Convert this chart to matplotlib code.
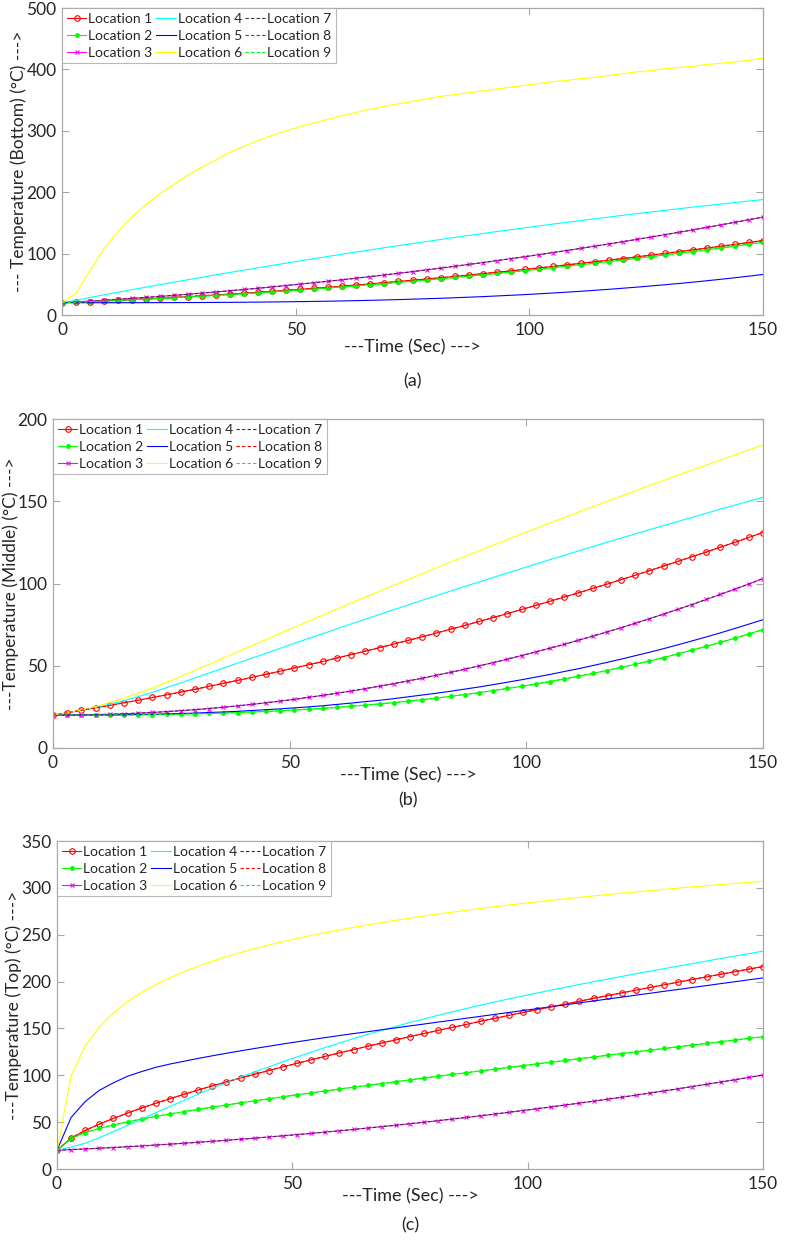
import matplotlib
matplotlib.use("Agg")
import matplotlib.pyplot as plt
import numpy as np

plt.rcParams['font.family'] = ['Lato', 'DejaVu Sans']

# time axis (s)
t = list(range(0, 151, 3))

# ---------------- (a) Bottom ----------------
a_L1 = [20.0, 20.9, 21.9, 22.9, 24.0, 25.1, 26.2, 27.4, 28.6, 29.9, 31.3, 32.6, 34.0, 35.5, 37.0, 38.6, 40.2,
        41.8, 43.5, 45.2, 47.0, 48.8, 50.7, 52.6, 54.6, 56.6, 58.6, 60.7, 62.8, 65.0, 67.3, 69.5, 71.8, 74.2,
        76.6, 79.1, 81.6, 84.1, 86.7, 89.3, 92.0, 94.7, 97.5, 100.3, 103.2, 106.1, 109.0, 112.0, 115.0, 118.1, 121.3]
a_L2 = [20.0, 20.8, 21.8, 22.7, 23.8, 24.8, 25.8, 27.0, 28.1, 29.4, 30.7, 31.9, 33.3, 34.7, 36.2, 37.7, 39.2,
        40.8, 42.4, 44.1, 45.8, 47.5, 49.4, 51.2, 53.2, 55.1, 57.0, 59.1, 61.1, 63.3, 65.5, 67.6, 69.9, 72.2,
        74.6, 77.0, 79.4, 81.9, 84.4, 87.0, 89.6, 92.2, 95.0, 97.7, 100.6, 103.4, 106.2, 109.2, 112.1, 115.2, 118.3]
a_L3 = [20.0, 21.3, 22.6, 24.1, 25.5, 27.1, 28.7, 30.3, 32.0, 33.8, 35.7, 37.6, 39.5, 41.6, 43.6, 45.8, 48.0,
        50.3, 52.6, 55.0, 57.4, 60.0, 62.5, 65.2, 67.9, 70.6, 73.5, 76.3, 79.3, 82.3, 85.3, 88.5, 91.7, 94.9,
        98.2, 101.6, 105.0, 108.5, 112.1, 115.7, 119.4, 123.1, 126.9, 130.8, 134.7, 138.7, 142.7, 146.8, 151.0, 155.2, 159.5]
a_L4 = [20.0, 23.8, 28.6, 32.9, 37.1, 41.3, 45.4, 49.5, 53.5, 57.5, 61.5, 65.5, 69.4, 73.2, 77.0, 80.8, 84.5,
        88.2, 91.9, 95.5, 99.1, 102.6, 106.1, 109.6, 113.0, 116.4, 119.7, 123.0, 126.3, 129.5, 132.7, 135.8, 138.9, 142.0,
        145.0, 148.0, 150.9, 153.8, 156.7, 159.5, 162.3, 165.1, 167.8, 170.4, 173.1, 175.7, 178.2, 180.7, 183.2, 185.6, 188.0]
a_L5 = [20.0, 20.0, 20.0, 20.0, 20.0, 20.05, 20.08, 20.13, 20.19, 20.27, 20.37, 20.49, 20.64, 20.81, 21.01, 21.24, 21.51,
        21.8, 22.1, 22.5, 22.9, 23.4, 23.9, 24.5, 25.1, 25.8, 26.5, 27.2, 28.1, 29.0, 29.9, 31.0, 32.1, 33.2,
        34.5, 35.8, 37.2, 38.6, 40.2, 41.8, 43.6, 45.4, 47.3, 49.3, 51.3, 53.5, 55.8, 58.2, 60.7, 63.3, 66.0]
a_L6 = [20, 35, 73, 108, 136, 160, 180, 198, 213, 228, 241, 253, 265, 275, 284, 292.5, 300,
        307, 313, 319, 325, 330, 335, 340, 344, 348, 352, 356, 359, 362, 365, 368, 371, 374,
        377, 380, 382, 385, 387, 390, 393, 396, 398, 401, 403, 405, 408, 410, 412, 415, 418]

# ---------------- (b) Middle ----------------
b_L1 = [20.0, 21.4, 22.9, 24.4, 25.9, 27.5, 29.0, 30.7, 32.3, 34.0, 35.7, 37.5, 39.3, 41.1, 42.9, 44.8, 46.7,
        48.7, 50.6, 52.6, 54.7, 56.8, 58.9, 61.0, 63.2, 65.4, 67.6, 69.9, 72.2, 74.5, 76.9, 79.3, 81.7, 84.2,
        86.7, 89.2, 91.8, 94.3, 97.0, 99.6, 102.3, 105.0, 107.8, 110.6, 113.4, 116.3, 119.1, 122.1, 125.0, 128.0, 131.0]
b_L2 = [20.0, 20.0, 20.0, 20.0, 20.1, 20.1, 20.2, 20.3, 20.4, 20.6, 20.8, 21.0, 21.2, 21.5, 21.9, 22.2, 22.6,
        23.1, 23.6, 24.1, 24.7, 25.4, 26.1, 26.8, 27.6, 28.5, 29.4, 30.3, 31.4, 32.5, 33.6, 34.9, 36.2, 37.5,
        38.9, 40.4, 42.0, 43.6, 45.3, 47.1, 49.0, 50.9, 52.9, 55.0, 57.2, 59.5, 61.8, 64.2, 66.7, 69.3, 72.0]
b_L3 = [20.0, 20.0, 20.1, 20.3, 20.5, 20.8, 21.2, 21.6, 22.1, 22.7, 23.3, 24.0, 24.8, 25.6, 26.5, 27.5, 28.5,
        29.6, 30.8, 32.0, 33.3, 34.6, 36.1, 37.6, 39.1, 40.8, 42.4, 44.2, 46.0, 47.9, 49.9, 51.9, 54.0, 56.2,
        58.4, 60.7, 63.0, 65.5, 68.0, 70.5, 73.1, 75.8, 78.6, 81.4, 84.3, 87.2, 90.3, 93.4, 96.5, 99.7, 103.0]
b_L4 = [20.0, 21.3, 22.9, 24.6, 26.6, 28.8, 31.2, 33.8, 36.7, 39.6, 42.6, 45.6, 48.6, 51.6, 54.6, 57.6, 60.6,
        63.6, 66.6, 69.5, 72.5, 75.4, 78.3, 81.2, 84.1, 86.9, 89.8, 92.6, 95.4, 98.2, 100.9, 103.7, 106.4, 109.1,
        111.8, 114.5, 117.1, 119.8, 122.4, 125.0, 127.6, 130.2, 132.7, 135.2, 137.7, 140.2, 142.7, 145.2, 147.6, 150.0, 152.4]
b_L5 = [20.0, 20.0, 20.0, 20.1, 20.1, 20.2, 20.4, 20.5, 20.7, 21.0, 21.2, 21.6, 21.9, 22.3, 22.8, 23.3, 23.8,
        24.4, 25.0, 25.7, 26.5, 27.3, 28.2, 29.0, 30.0, 31.1, 32.2, 33.3, 34.5, 35.8, 37.1, 38.5, 40.0, 41.5,
        43.1, 44.7, 46.5, 48.2, 50.1, 52.0, 54.0, 56.1, 58.2, 60.4, 62.7, 65.1, 67.5, 70.0, 72.6, 75.3, 78.0]
b_L6 = [20.0, 21.4, 23.1, 25.2, 27.6, 30.3, 33.3, 36.5, 39.9, 43.5, 47.2, 50.9, 54.7, 58.4, 62.2, 65.9, 69.7,
        73.4, 77.1, 80.8, 84.5, 88.1, 91.7, 95.3, 98.9, 102.4, 106.0, 109.5, 113.0, 116.4, 119.9, 123.3, 126.7, 130.1,
        133.4, 136.8, 140.1, 143.4, 146.6, 149.9, 153.1, 156.3, 159.5, 162.6, 165.8, 168.9, 172.0, 175.1, 178.1, 181.2, 184.2]

# ---------------- (c) Top ----------------
c_L1 = [20.0, 33.0, 41.1, 47.9, 54.0, 59.7, 65.1, 70.2, 75.0, 79.7, 84.3, 88.7, 92.9, 97.1, 101.1, 105.1, 109.0,
        112.8, 116.5, 120.2, 123.9, 127.4, 131.0, 134.4, 137.8, 141.3, 144.6, 147.9, 151.1, 154.3, 157.6, 160.8, 163.9, 167.0,
        170.1, 173.1, 176.0, 179.0, 182.1, 185.0, 187.9, 190.9, 193.7, 196.5, 199.4, 202.2, 205.0, 207.8, 210.5, 213.3, 216.0]
c_L2 = [20.0, 32.7, 38.8, 43.3, 47.0, 50.3, 53.3, 56.1, 58.7, 61.2, 63.7, 66.0, 68.3, 70.6, 72.8, 74.9, 77.1,
        79.2, 81.2, 83.3, 85.3, 87.3, 89.3, 91.2, 93.2, 95.1, 97.1, 99.0, 100.9, 102.8, 104.7, 106.5, 108.4, 110.3,
        112.2, 114.0, 115.8, 117.7, 119.5, 121.4, 123.2, 125.0, 126.8, 128.6, 130.4, 132.2, 134.0, 135.8, 137.6, 139.4, 141.1]
c_L3 = [20.0, 20.7, 21.4, 22.2, 22.9, 23.8, 24.6, 25.6, 26.5, 27.5, 28.5, 29.6, 30.6, 31.8, 32.9, 34.2, 35.4,
        36.7, 38.0, 39.4, 40.8, 42.2, 43.7, 45.2, 46.7, 48.3, 49.9, 51.6, 53.3, 55.0, 56.8, 58.6, 60.5, 62.4,
        64.3, 66.3, 68.3, 70.3, 72.4, 74.5, 76.6, 78.8, 81.1, 83.3, 85.6, 88.0, 90.4, 92.8, 95.2, 97.7, 100.3]
c_L4 = [20.0, 23.5, 27.5, 33.5, 40.0, 46.5, 53.3, 60.0, 66.7, 73.3, 80.0, 86.0, 92.0, 98.0, 103.6, 109.0, 114.5,
        119.6, 124.6, 129.6, 134.4, 139.1, 143.7, 148.0, 152.2, 156.3, 160.2, 164.0, 167.7, 171.3, 174.8, 178.2, 181.5, 184.7,
        187.8, 190.9, 193.9, 196.9, 199.8, 202.7, 205.5, 208.3, 211.1, 213.8, 216.5, 219.2, 221.9, 224.6, 227.2, 229.8, 232.5]
c_L5 = [20.0, 55.0, 72.0, 84.0, 92.0, 99.0, 104.0, 108.5, 112.0, 115.0, 118.0, 120.8, 123.5, 126.1, 128.6, 131.0, 133.4,
        135.7, 138.0, 140.2, 142.4, 144.5, 146.5, 148.6, 150.6, 152.7, 154.7, 156.8, 158.8, 160.9, 162.9, 165.0, 167.0, 169.1,
        171.1, 173.2, 175.2, 177.3, 179.3, 181.4, 183.4, 185.5, 187.5, 189.6, 191.6, 193.7, 195.7, 197.8, 199.8, 201.9, 203.9]
c_L6 = [20.0, 99.3, 131.3, 151.7, 166.7, 178.6, 188.4, 196.8, 204.1, 210.6, 216.4, 221.7, 226.5, 231.0, 235.1, 239.0, 242.6,
        246.0, 249.2, 252.2, 255.1, 257.9, 260.5, 263.0, 265.4, 267.7, 269.9, 272.1, 274.1, 276.1, 278.0, 279.9, 281.7, 283.4,
        285.1, 286.7, 288.3, 289.9, 291.4, 292.9, 294.3, 295.7, 297.1, 298.4, 299.7, 301.0, 302.2, 303.5, 304.7, 305.8, 307.0]

labels = ["Location 1", "Location 2", "Location 3", "Location 4", "Location 5",
          "Location 6", "Location 7", "Location 8", "Location 9"]
ylabels = ["--- Temperature (Bottom) (°C) --->",
           "---Temperature (Middle) (°C) --->",
           "---Temperature (Top) (°C) --->"]
xlabel = "---Time (Sec) --->"
captions = ["(a)", "(b)", "(c)"]
yticks = [list(range(0, 501, 100)), list(range(0, 201, 50)), list(range(0, 351, 50))]
xticks = [0, 50, 100, 150]

# Locations 7, 8, 9 coincide with 3, 1, 2
panels = [
    [a_L1, a_L2, a_L3, a_L4, a_L5, a_L6, a_L3, a_L1, a_L2],
    [b_L1, b_L2, b_L3, b_L4, b_L5, b_L6, b_L3, b_L1, b_L2],
    [c_L1, c_L2, c_L3, c_L4, c_L5, c_L6, c_L3, c_L1, c_L2],
]

W, H = 790, 1247
fig = plt.figure(figsize=(W / 100, H / 100), dpi=100)
boxes = [(62, 8, 763, 315), (53, 419, 763, 748), (57, 841, 763, 1169)]
xlab_y = [347, 775, 1196]
cap_y = [381, 800, 1225]
ylab_x = [19, 11, 14]

styles = [
    dict(color='red', marker='o', mfc='none', ms=4, mew=0.8, ls='-'),
    dict(color='#00ff00', marker='.', ms=5, ls='-'),
    dict(color='magenta', marker='x', ms=3.5, mew=0.8, ls='-'),
    dict(color='cyan', ls='-'),
    dict(color='blue', ls='-'),
    dict(color='#ffff00', ls='-'),
    dict(color='#333333', ls=(0, (3, 2))),
    dict(color='red', ls=(0, (3, 2))),
    dict(color='#00ff00', ls=(0, (3, 2))),
]

spine_col = '#a8a8a8'
txt_col = '#262626'
for i, (l, tp, r, b) in enumerate(boxes):
    w, h = r - l, b - tp
    ax = fig.add_axes([l / W, 1 - b / H, w / W, h / H])
    for k, series in enumerate(panels[i]):
        ax.plot(t, series, lw=0.8, label=labels[k], **styles[k])
    ax.set_xlim(0, 150)
    ax.set_ylim(yticks[i][0], yticks[i][-1])
    ax.set_xticks(xticks)
    ax.set_yticks(yticks[i])
    ax.tick_params(direction='in', top=True, right=True, length=5, width=0.8,
                   color=spine_col, labelcolor=txt_col, labelsize=12.5)
    ax.tick_params(axis='x', pad=5)
    ax.tick_params(axis='y', pad=4)
    for s in ax.spines.values():
        s.set_color(spine_col)
        s.set_linewidth(0.9)
    ax.set_xlabel(xlabel, fontsize=13, color=txt_col)
    ax.xaxis.label.set_va('center')
    ax.xaxis.set_label_coords(0.5, (b - xlab_y[i]) / h)
    ax.set_ylabel(ylabels[i], fontsize=12.5, color=txt_col)
    ax.yaxis.label.set_va('center')
    ax.yaxis.set_label_coords((ylab_x[i] - l) / w, 0.5)
    leg = ax.legend(loc='upper left', ncol=3, fontsize=10, frameon=True, fancybox=False,
                    borderaxespad=0, handlelength=1.4, handletextpad=0.15, columnspacing=0.25,
                    labelspacing=0.35, borderpad=0.35)
    leg.get_frame().set_edgecolor(spine_col)
    leg.get_frame().set_linewidth(0.8)
    for txt in leg.get_texts():
        txt.set_color(txt_col)
    fig.text((l + r) / 2 / W, 1 - cap_y[i] / H, captions[i], ha='center', va='center',
             fontsize=13, color=txt_col)

fig.savefig("out.png", dpi=100)
